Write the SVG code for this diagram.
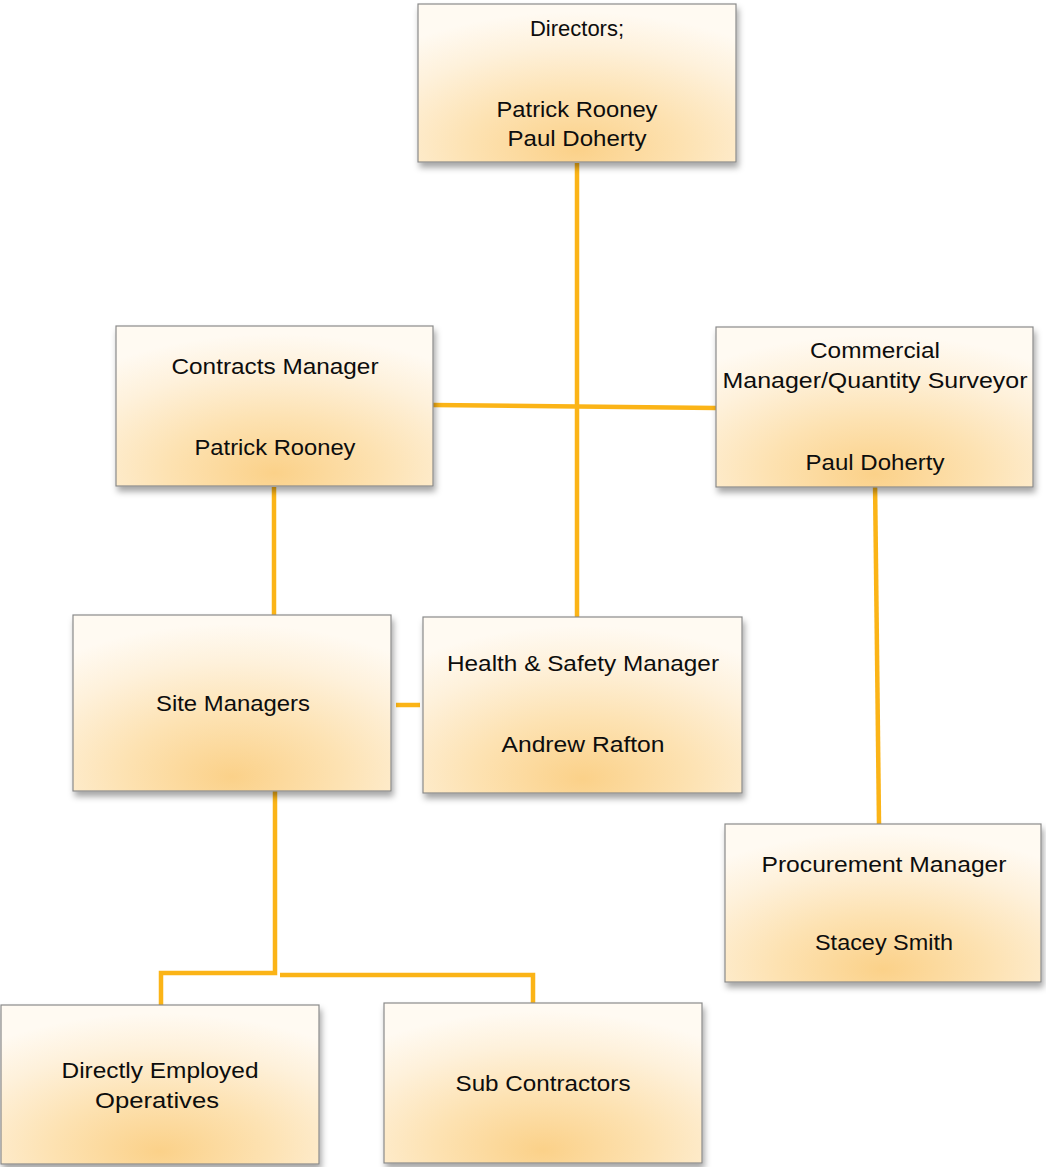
<svg xmlns="http://www.w3.org/2000/svg" width="1046" height="1167" viewBox="0 0 1046 1167">
<style>
.box{fill:url(#g);stroke:#8a8a8a;stroke-width:1.2;filter:url(#sh)}
.t{font-family:"Liberation Sans",Arial,sans-serif;font-size:22px;fill:#0d0d0d;text-anchor:middle}
.c{stroke:#FBB417;stroke-width:4.5;fill:none;stroke-linejoin:miter}
</style>
<defs>
<radialGradient id="g" cx="0.5" cy="0.9" r="0.85" fx="0.5" fy="0.92">
<stop offset="0" stop-color="#FBD189"/>
<stop offset="0.4" stop-color="#FDE2B2"/>
<stop offset="0.75" stop-color="#FEF1DB"/>
<stop offset="1" stop-color="#FFFAF2"/>
</radialGradient>
<filter id="sh" x="-10%" y="-10%" width="125%" height="130%">
<feDropShadow dx="2" dy="5" stdDeviation="3" flood-color="#000" flood-opacity="0.35"/>
</filter>
</defs>
<g id="connectors">
<path class="c" d="M577 163 V617"/>
<path class="c" d="M433 405 L716 408"/>
<path class="c" d="M274 487 V615"/>
<path class="c" d="M396 705 H420"/>
<path class="c" d="M875 480 L879 824"/>
<path class="c" d="M275 791 V973 H161 V1005"/>
<path class="c" d="M280 975 H533 V1006"/>
</g>
<g id="directors">
<rect class="box" x="418" y="4" width="318" height="158"/>
<text class="t" x="577" y="36">Directors;</text>
<text class="t" x="577" y="117" textLength="161" lengthAdjust="spacingAndGlyphs">Patrick Rooney</text>
<text class="t" x="577" y="146" textLength="139" lengthAdjust="spacingAndGlyphs">Paul Doherty</text>
</g>
<g id="contracts">
<rect class="box" x="116" y="326" width="317" height="160"/>
<text class="t" x="275" y="374" textLength="207" lengthAdjust="spacingAndGlyphs">Contracts Manager</text>
<text class="t" x="275" y="455" textLength="161" lengthAdjust="spacingAndGlyphs">Patrick Rooney</text>
</g>
<g id="commercial">
<rect class="box" x="716" y="327" width="317" height="160"/>
<text class="t" x="875" y="358" textLength="130" lengthAdjust="spacingAndGlyphs">Commercial</text>
<text class="t" x="875" y="388" textLength="305" lengthAdjust="spacingAndGlyphs">Manager/Quantity Surveyor</text>
<text class="t" x="875" y="470" textLength="139" lengthAdjust="spacingAndGlyphs">Paul Doherty</text>
</g>
<g id="site">
<rect class="box" x="73" y="615" width="318" height="176"/>
<text class="t" x="233" y="711" textLength="154" lengthAdjust="spacingAndGlyphs">Site Managers</text>
</g>
<g id="hs">
<rect class="box" x="423" y="617" width="319" height="176"/>
<text class="t" x="583" y="671" textLength="272" lengthAdjust="spacingAndGlyphs">Health &amp; Safety Manager</text>
<text class="t" x="583" y="752" textLength="163" lengthAdjust="spacingAndGlyphs">Andrew Rafton</text>
</g>
<g id="procurement">
<rect class="box" x="725" y="824" width="316" height="158"/>
<text class="t" x="884" y="872" textLength="245" lengthAdjust="spacingAndGlyphs">Procurement Manager</text>
<text class="t" x="884" y="950" textLength="138" lengthAdjust="spacingAndGlyphs">Stacey Smith</text>
</g>
<g id="direct">
<rect class="box" x="1" y="1005" width="318" height="159"/>
<text class="t" x="160" y="1078" textLength="197" lengthAdjust="spacingAndGlyphs">Directly Employed</text>
<text class="t" x="157" y="1108" textLength="124" lengthAdjust="spacingAndGlyphs">Operatives</text>
</g>
<g id="sub">
<rect class="box" x="384" y="1003" width="318" height="160"/>
<text class="t" x="543" y="1091" textLength="175" lengthAdjust="spacingAndGlyphs">Sub Contractors</text>
</g>
</svg>
